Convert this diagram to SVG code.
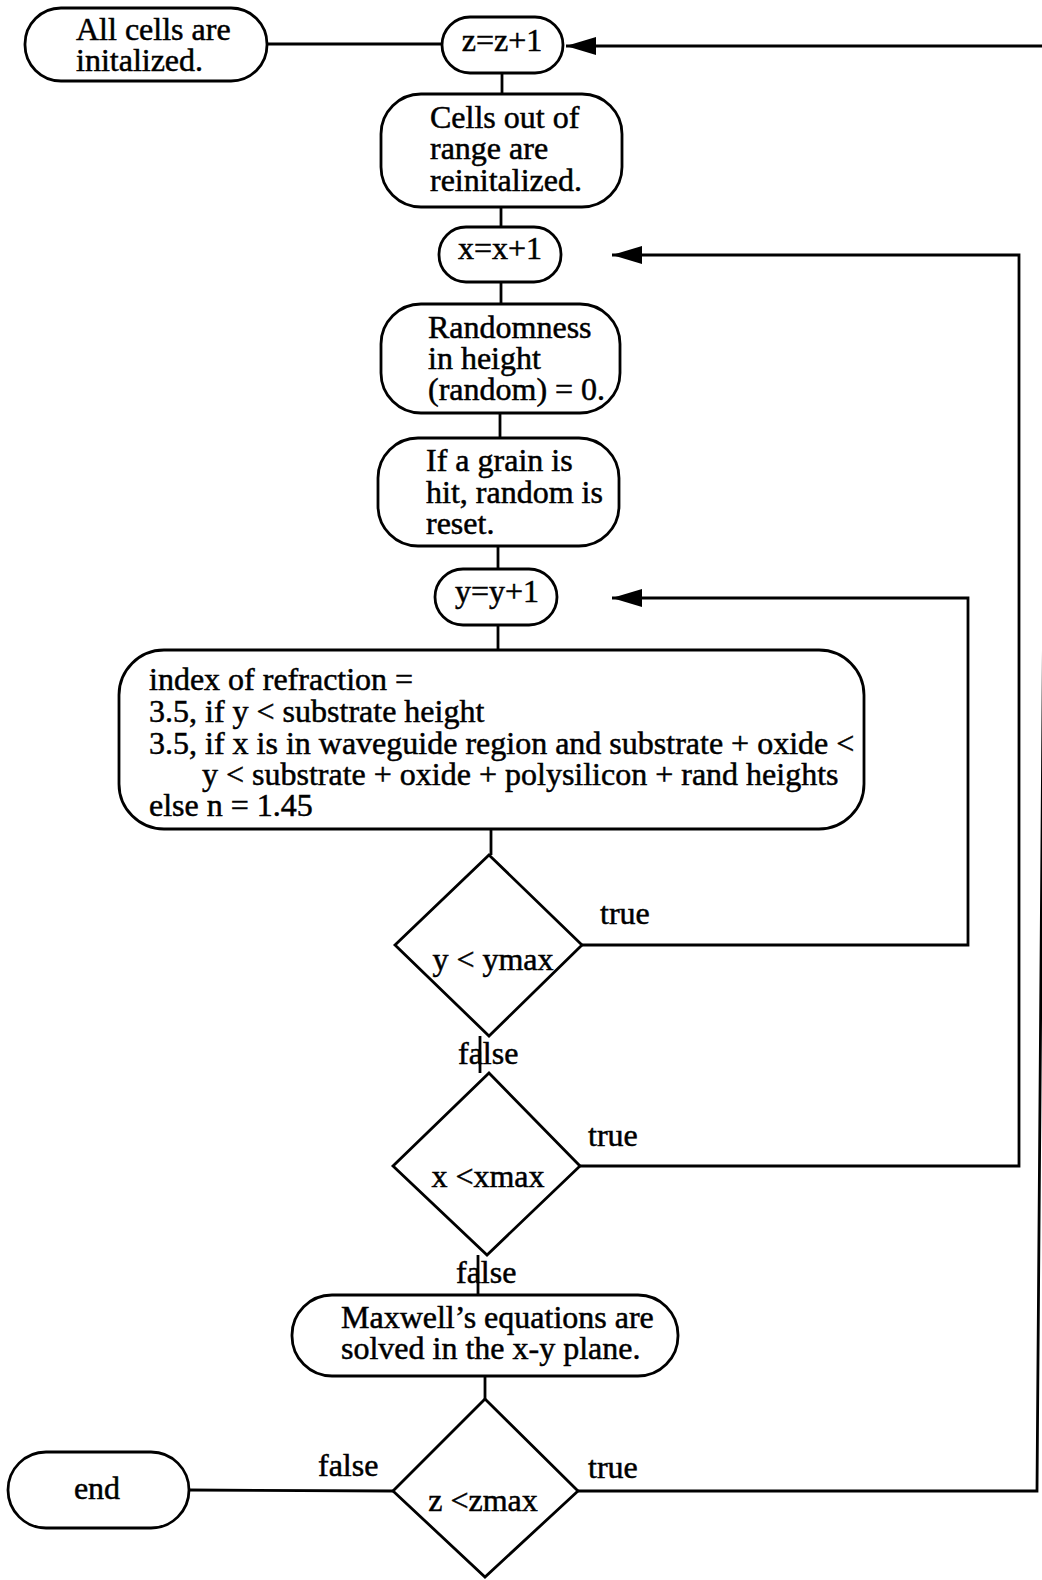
<svg xmlns="http://www.w3.org/2000/svg" width="1042" height="1580" viewBox="0 0 1042 1580">
<style>
.box{fill:#fff;stroke:#000;stroke-width:2.8}
.t{font-family:"Liberation Serif","Times New Roman",serif;font-size:32px;fill:#000;stroke:#000;stroke-width:0.5}
.c{text-anchor:middle}
.ln{fill:none;stroke:#000;stroke-width:2.8;stroke-linejoin:miter}
</style>
<defs>
<marker id="arr" markerUnits="userSpaceOnUse" markerWidth="32" markerHeight="20" viewBox="0 0 32 20" refX="31" refY="10" orient="auto">
<path d="M1,1 L31,10 L1,19 z" fill="#000"/>
</marker>
</defs>
<rect width="1042" height="1580" fill="#fff"/>
<g id="connectors">
<line class="ln" x1="267" y1="44" x2="442" y2="44"/>
<line class="ln" x1="502" y1="73" x2="502" y2="94"/>
<line class="ln" x1="501" y1="207" x2="501" y2="227"/>
<line class="ln" x1="501" y1="282" x2="501" y2="304"/>
<line class="ln" x1="500" y1="413" x2="500" y2="438"/>
<line class="ln" x1="498" y1="546" x2="498" y2="569"/>
<line class="ln" x1="498" y1="625" x2="498" y2="650"/>
<line class="ln" x1="491" y1="829" x2="491" y2="855"/>
<line class="ln" x1="480" y1="1036" x2="480" y2="1073"/>
<line class="ln" x1="478" y1="1255" x2="478" y2="1295"/>
<line class="ln" x1="485" y1="1376" x2="485" y2="1399"/>
<line class="ln" x1="189" y1="1490" x2="393" y2="1491"/>
<polyline class="ln" points="582,945 968,945 968,598 612,598" marker-end="url(#arr)"/>
<polyline class="ln" points="580,1166 1019,1166 1019,255 612,255" marker-end="url(#arr)"/>
<polyline class="ln" points="578,1491 1037,1491 1048,46 566,46" marker-end="url(#arr)"/>
<text class="t" x="600" y="924">true</text>
<text class="t" x="458" y="1064">false</text>
<text class="t" x="588" y="1146">true</text>
<text class="t" x="456" y="1283">false</text>
<text class="t" x="318" y="1476">false</text>
<text class="t" x="588" y="1478">true</text>
</g>
<g id="n-allcells">
<rect class="box" x="25" y="8" width="242" height="73" rx="36"/>
<text class="t" x="76" y="40">All cells are</text>
<text class="t" x="76" y="71">initalized.</text>
</g>
<g id="n-z">
<rect class="box" x="442" y="17" width="121" height="56" rx="28"/>
<text class="t c" x="502" y="51">z=z+1</text>
</g>
<g id="n-cells">
<rect class="box" x="381" y="94" width="241" height="113" rx="40"/>
<text class="t" x="430" y="128">Cells out of</text>
<text class="t" x="430" y="159">range are</text>
<text class="t" x="430" y="191">reinitalized.</text>
</g>
<g id="n-x">
<rect class="box" x="439" y="227" width="122" height="55" rx="27"/>
<text class="t c" x="500" y="259">x=x+1</text>
</g>
<g id="n-random">
<rect class="box" x="381" y="304" width="239" height="109" rx="40"/>
<text class="t" x="428" y="338">Randomness</text>
<text class="t" x="428" y="369">in height</text>
<text class="t" x="428" y="400">(random) = 0.</text>
</g>
<g id="n-grain">
<rect class="box" x="378" y="438" width="241" height="108" rx="40"/>
<text class="t" x="426" y="471">If a grain is</text>
<text class="t" x="426" y="503">hit, random is</text>
<text class="t" x="426" y="534">reset.</text>
</g>
<g id="n-y">
<rect class="box" x="435" y="569" width="122" height="56" rx="28"/>
<text class="t c" x="497" y="602">y=y+1</text>
</g>
<g id="n-index">
<rect class="box" x="119" y="650" width="745" height="179" rx="45"/>
<text class="t" x="149" y="690">index of refraction =</text>
<text class="t" x="149" y="722">3.5, if y &lt; substrate height</text>
<text class="t" x="149" y="754">3.5, if x is in waveguide region and substrate + oxide &lt;</text>
<text class="t" x="202" y="785">y &lt; substrate + oxide + polysilicon + rand heights</text>
<text class="t" x="149" y="816">else n = 1.45</text>
</g>
<g id="n-ycheck">
<polygon class="box" points="489,855 582,945 489,1036 395,945"/>
<text class="t c" x="493" y="970">y &lt; ymax</text>
</g>
<g id="n-xcheck">
<polygon class="box" points="489,1073 580,1166 487,1255 393,1166"/>
<text class="t c" x="488" y="1187">x &lt;xmax</text>
</g>
<g id="n-maxwell">
<rect class="box" x="292" y="1295" width="386" height="81" rx="40"/>
<text class="t" x="341" y="1328">Maxwell’s equations are</text>
<text class="t" x="341" y="1359">solved in the x-y plane.</text>
</g>
<g id="n-zcheck">
<polygon class="box" points="485,1399 578,1491 485,1577 393,1491"/>
<text class="t c" x="483" y="1511">z &lt;zmax</text>
</g>
<g id="n-end">
<rect class="box" x="8" y="1452" width="181" height="76" rx="38"/>
<text class="t c" x="97" y="1499">end</text>
</g>
</svg>
